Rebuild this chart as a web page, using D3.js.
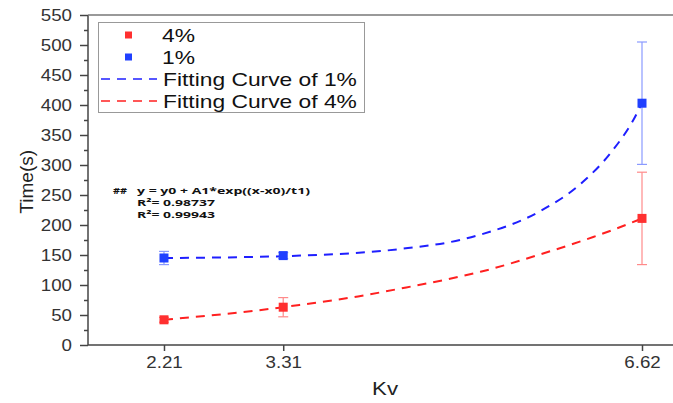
<!DOCTYPE html>
<html>
<head>
<meta charset="utf-8">
<script src="https://cdn.jsdelivr.net/npm/d3@7"></script>
<style>
  body { margin: 0; background: #fff; }
  svg { font-family: "Liberation Sans", Arial, sans-serif; }
</style>
</head>
<body>
<svg id="chart" width="673" height="403"></svg>
<script>
// data
const kv = [2.21, 3.31, 6.62];
const time4 = [42, 63, 211];
const err4 = [4, 16, 77];
const time1 = [145, 149, 403];
const err1 = [11, 5, 102];

// fitted curves, points
const fit1X = [2.21, 3.31, 3.47, 4.39, 4.94, 5.13, 5.68, 6.05, 6.33, 6.54, 6.62];
const fit1Y = [145, 148, 149, 160, 175, 184, 223, 268, 320, 375, 403];
const fit4X = [2.21, 3.31, 3.47, 4.0, 4.39, 4.94, 5.13, 5.68, 6.17, 6.58, 6.62];
const fit4Y = [42, 63, 67, 81, 94, 114, 122, 151, 180, 208, 211];

const yTicks = d3.range(0, 551, 50);

const svg = d3.select("#chart"),
  margin = { top: 15, right: 0, bottom: 58, left: 88 },
  width = +svg.attr("width") - margin.left - margin.right,
  height = +svg.attr("height") - margin.top - margin.bottom;

const g = svg.append("g").attr("transform", `translate(${margin.left},${margin.top})`);

const x = d3.scaleLinear().domain([1.509, 6.906]).range([0, width]);
const y = d3.scaleLinear().domain([0, 550]).range([height, 0]);

const axisColor = "#444";

// x axis
const xAxis = g.append("g")
  .attr("transform", `translate(0,${height})`)
  .call(d3.axisBottom(x).tickValues(kv).tickFormat(d3.format(".2f")).tickSize(6).tickPadding(6));
xAxis.selectAll("text").attr("font-size", "16px").attr("fill", "#333")
  .attr("font-family", "Liberation Sans, Arial").classed("wide", true);

// y axis
const yAxis = g.append("g")
  .call(d3.axisLeft(y).tickValues(yTicks).tickSize(8).tickPadding(8));
yAxis.selectAll("text").attr("font-size", "16px").attr("fill", "#333")
  .attr("font-family", "Liberation Sans, Arial").classed("wide", true);
// minor ticks
g.append("g")
  .call(d3.axisLeft(y).tickValues(d3.range(25, 550, 50)).tickSize(4).tickFormat(""))
  .select(".domain").remove();

g.selectAll(".domain, .tick line").attr("stroke", axisColor).attr("stroke-width", 1.5);
xAxis.select(".domain").attr("d", `M0,0H${width}`);
yAxis.select(".domain").attr("d", `M0,${height}V0`);

// top frame line
g.append("line")
  .attr("x1", 0).attr("x2", width).attr("y1", 0).attr("y2", 0)
  .attr("stroke", "#777").attr("stroke-width", 1.5);

// axis titles
svg.append("text")
  .attr("x", margin.left + x(4.25)).attr("y", 395)
  .attr("text-anchor", "middle").attr("font-size", "19px").attr("fill", "#222")
  .classed("wide", true)
  .text("Kv");
svg.append("text")
  .attr("transform", `translate(33,${margin.top + y(272)}) rotate(-90)`)
  .attr("text-anchor", "middle").attr("font-size", "19px").attr("fill", "#222")
  .text("Time(s)");

// fitting curves
const line = d3.line().x((d) => x(d[0])).y((d) => y(d[1])).curve(d3.curveMonotoneX);
g.append("path")
  .datum(d3.zip(fit1X, fit1Y))
  .attr("d", line).attr("fill", "none")
  .attr("stroke", "#1f1fff").attr("stroke-width", 2).attr("stroke-dasharray", "9,7");
g.append("path")
  .datum(d3.zip(fit4X, fit4Y))
  .attr("d", line).attr("fill", "none")
  .attr("stroke", "#ff2020").attr("stroke-width", 2).attr("stroke-dasharray", "9,7");

// error bars + markers
function drawSeries(vals, errs, barColor, markColor) {
  const s = g.append("g");
  kv.forEach((k, i) => {
    const cx = x(k);
    s.append("line")
      .attr("x1", cx).attr("x2", cx)
      .attr("y1", y(vals[i] - errs[i])).attr("y2", y(vals[i] + errs[i]))
      .attr("stroke", barColor).attr("stroke-width", 1.2);
    [vals[i] - errs[i], vals[i] + errs[i]].forEach((v) => {
      s.append("line")
        .attr("x1", cx - 5).attr("x2", cx + 5)
        .attr("y1", y(v)).attr("y2", y(v))
        .attr("stroke", barColor).attr("stroke-width", 1.2);
    });
    s.append("rect")
      .attr("x", cx - 4.5).attr("y", y(vals[i]) - 4.5)
      .attr("width", 9).attr("height", 9)
      .attr("fill", markColor);
  });
}
drawSeries(time4, err4, "#ff8a8a", "#ff3030");
drawSeries(time1, err1, "#8a9aff", "#2040ff");

// legend
const leg = svg.append("g");
leg.append("rect")
  .attr("x", 98.5).attr("y", 22.5).attr("width", 266).attr("height", 90)
  .attr("fill", "#fff").attr("stroke", "#999").attr("stroke-width", 1);
const legItems = [
  { label: "4%", type: "rect", color: "#ff3030" },
  { label: "1%", type: "rect", color: "#2040ff" },
  { label: "Fitting Curve of 1%", type: "line", color: "#1f1fff" },
  { label: "Fitting Curve of 4%", type: "line", color: "#ff2020" }
];
legItems.forEach((d, i) => {
  const cy = 35 + i * 22;
  if (d.type === "rect") {
    leg.append("rect").attr("x", 125).attr("y", cy - 3.5).attr("width", 7).attr("height", 7).attr("fill", d.color);
  } else {
    leg.append("line").attr("x1", 101).attr("x2", 157).attr("y1", cy).attr("y2", cy)
      .attr("stroke", d.color).attr("stroke-width", 1.5).attr("stroke-dasharray", "9,7");
  }
  leg.append("text")
    .attr("x", d.type === "rect" ? 162 : 163).attr("y", cy + 7)
    .attr("font-size", "19px").attr("fill", "#111")
    .attr("class", "legwide")
    .text(d.label);
});

// fit annotation
const ann = svg.append("g")
  .attr("font-family", "Open Sans, sans-serif").attr("font-weight", "bold")
  .attr("font-size", "9px").attr("fill", "#111");
const annLines = [
  { x: 113, y: 194, w: 14, t: "##" },
  { x: 137, y: 194, w: 173, t: "y = y0 + A1*exp((x-x0)/t1)" },
  { x: 137, y: 206, w: 78, t: "R²= 0.98737" },
  { x: 137, y: 218, w: 78, t: "R²= 0.99943" }
];
annLines.forEach((d) => {
  ann.append("text").attr("x", d.x).attr("y", d.y)
    .attr("textLength", d.w).attr("lengthAdjust", "spacingAndGlyphs")
    .text(d.t);
});

// the source's lettering is horizontally widened
function widen(sel, f) {
  sel.each(function () {
    const w = this.getComputedTextLength();
    d3.select(this).attr("textLength", w * f).attr("lengthAdjust", "spacingAndGlyphs");
  });
}
widen(svg.selectAll("text.wide"), 1.17);
widen(svg.selectAll("text.legwide"), 1.2);
</script>
</body>
</html>
